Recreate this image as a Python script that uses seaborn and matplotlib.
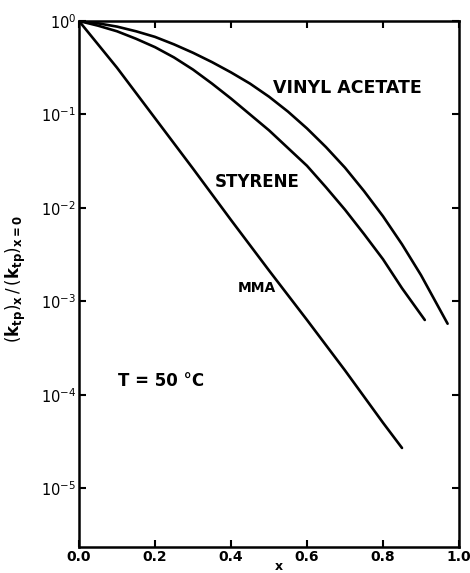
import numpy as np
import pandas as pd
import matplotlib
matplotlib.use("Agg")
import matplotlib.pyplot as plt
import matplotlib.ticker as mticker
import seaborn as sns

# Data (log10 of the ratio (k_tp)_x / (k_tp)_x=0)
mma_x = [0.0, 0.1, 0.2, 0.3, 0.4, 0.5, 0.6, 0.7, 0.8, 0.85]
mma_log = [0.0, -0.50, -1.04, -1.58, -2.13, -2.67, -3.20, -3.74, -4.30, -4.57]
sty_x = [0.0, 0.05, 0.1, 0.15, 0.2, 0.25, 0.3, 0.35, 0.4, 0.45, 0.5, 0.55, 0.6,
         0.65, 0.7, 0.75, 0.8, 0.85, 0.91]
sty_log = [0.0, -0.05, -0.11, -0.19, -0.28, -0.39, -0.52, -0.67, -0.83, -1.00,
           -1.17, -1.36, -1.55, -1.78, -2.02, -2.28, -2.55, -2.86, -3.20]
va_x = [0.0, 0.05, 0.1, 0.15, 0.2, 0.25, 0.3, 0.35, 0.4, 0.45, 0.5, 0.55, 0.6,
        0.65, 0.7, 0.75, 0.8, 0.85, 0.9, 0.97]
va_log = [0.0, -0.025, -0.06, -0.11, -0.17, -0.25, -0.34, -0.44, -0.55, -0.67,
          -0.81, -0.97, -1.15, -1.35, -1.57, -1.82, -2.09, -2.39, -2.72, -3.24]

series = {"MMA": (mma_x, mma_log), "STYRENE": (sty_x, sty_log),
          "VINYL ACETATE": (va_x, va_log)}
rows = []
for name, (xs, ls) in series.items():
    for xv, lv in zip(xs, ls):
        rows.append({"x": xv, "ratio": 10.0 ** lv, "monomer": name})
df = pd.DataFrame(rows)

ytick_vals = [1e0, 1e-1, 1e-2, 1e-3, 1e-4, 1e-5]
ytick_labels = [r"$10^{0}$", r"$10^{-1}$", r"$10^{-2}$", r"$10^{-3}$",
                r"$10^{-4}$", r"$10^{-5}$"]
xtick_vals = [0.0, 0.2, 0.4, 0.6, 0.8, 1.0]
xtick_labels = ["0.0", "0.2", "0.4", "0.6", "0.8", "1.0"]

sns.set_style("ticks")
plt.rcParams["font.family"] = ["DejaVu Sans"]
plt.rcParams["mathtext.fontset"] = "dejavusans"
for key in ["text.color", "axes.labelcolor", "xtick.color", "ytick.color", "axes.edgecolor"]:
    plt.rcParams[key] = "black"

fig = plt.figure(figsize=(4.70, 5.73), dpi=100)
ax = fig.add_axes([79/470, 26/573, 380/470, 526/573])

sns.lineplot(data=df, x="x", y="ratio", hue="monomer", units="monomer",
             estimator=None, palette=["black"]*3, linewidth=1.9, legend=False,
             sort=False, ax=ax)

ax.set_yscale("log")
ax.set_xlim(0.0, 1.0)
ax.set_ylim(10**-5.63, 1.0)
ax.set_xticks(xtick_vals)
ax.set_xticklabels(xtick_labels, fontsize=10, fontweight="bold")
ax.set_yticks(ytick_vals)
ax.set_yticklabels(ytick_labels, fontsize=10.5)
ax.yaxis.set_minor_locator(mticker.NullLocator())
ax.tick_params(direction="in", top=True, right=True, length=5, width=1.5, pad=2)
for s in ax.spines.values():
    s.set_linewidth(1.8)

ax.set_xlabel("x", fontsize=9, fontweight="bold")
ax.xaxis.set_label_coords(0.526, -0.025)
ax.set_ylabel(r"$(\mathbf{k}_{\mathbf{tp}})_{\mathbf{x}}\,/\,(\mathbf{k}_{\mathbf{tp}})_{\mathbf{x=0}}$",
              fontsize=12)
ax.yaxis.set_label_coords(-0.135, 0.51)

ax.text(0.705, 10**-0.72, "VINYL ACETATE", ha="center", va="center", fontsize=12.5, fontweight="bold")
ax.text(0.468, 10**-1.72, "STYRENE", ha="center", va="center", fontsize=12, fontweight="bold")
ax.text(0.468, 10**-2.86, "MMA", ha="center", va="center", fontsize=10, fontweight="bold")
ax.text(0.217, 10**-3.85, "T = 50 °C", ha="center", va="center", fontsize=12, fontweight="bold")

fig.savefig("out.png", dpi=100)
